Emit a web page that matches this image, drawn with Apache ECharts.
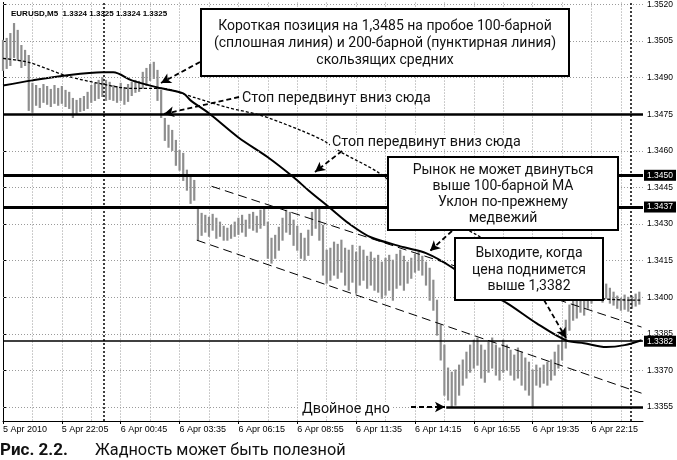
<!DOCTYPE html>
<html><head><meta charset="utf-8">
<script src="https://cdn.jsdelivr.net/npm/echarts@6/dist/echarts.min.js"></script>
<style>html,body{margin:0;padding:0;background:#fff}#c{width:677px;height:460px}</style>
</head><body><div id="c"></div>
<script>
// ---- tick labels ----
const xTickLabels = ['5 Apr 2010','5 Apr 22:05','6 Apr 00:45','6 Apr 03:35','6 Apr 06:15','6 Apr 08:55','6 Apr 11:35','6 Apr 14:15','6 Apr 16:55','6 Apr 19:35','6 Apr 22:15'];
const barsPerLabel = 16;
const categoryCount = 175;
const yTicks = [1.3355,1.3370,1.3385,1.3400,1.3415,1.3430,1.3445,1.3460,1.3475,1.3490,1.3505,1.3520];

// ---- price bars (10-min) ----
const highs = [
1.35053,1.35061,1.35081,1.35122,1.35094,1.35032,1.35012,1.34991,1.34877,1.34868,
1.34856,1.34872,1.34864,1.34852,1.34868,1.34856,1.34864,1.34848,1.34840,1.34815,
1.34807,1.34815,1.34823,1.34840,1.34868,1.34877,1.34889,1.34901,1.34889,1.34881,
1.34868,1.34864,1.34877,1.34860,1.34872,1.34881,1.34889,1.34885,1.34922,1.34938,
1.34954,1.34963,1.34930,1.34848,1.34733,1.34705,1.34684,1.34643,1.34602,1.34590,
1.34521,1.34492,1.34479,1.34369,1.34344,1.34336,1.34328,1.34340,1.34324,1.34308,
1.34291,1.34283,1.34295,1.34308,1.34324,1.34336,1.34316,1.34340,1.34348,1.34332,
1.34357,1.34369,1.34308,1.34242,1.34254,1.34287,1.34324,1.34357,1.34348,1.34316,
1.34291,1.34262,1.34242,1.34275,1.34348,1.34369,1.34365,1.34295,1.34193,1.34201,
1.34226,1.34217,1.34234,1.34201,1.34193,1.34213,1.34185,1.34209,1.34193,1.34168,
1.34185,1.34160,1.34172,1.34144,1.34160,1.34172,1.34152,1.34176,1.34193,1.34168,
1.34144,1.34160,1.34176,1.34185,1.34168,1.34144,1.34119,1.34070,1.33988,1.33886,
1.33804,1.33710,1.33693,1.33702,1.33722,1.33743,1.33775,1.33804,1.33824,1.33833,
1.33804,1.33783,1.33816,1.33833,1.33804,1.33792,1.33824,1.33804,1.33783,1.33763,
1.33792,1.33775,1.33751,1.33734,1.33702,1.33722,1.33710,1.33722,1.33734,1.33743,
1.33775,1.33804,1.33845,1.33906,1.33968,1.34000,1.33988,1.34017,1.34005,1.34029,
1.34050,1.34037,1.34058,1.34046,1.34054,1.34037,1.34021,1.34005,1.33996,1.34009,
1.34000,1.34005,1.34013,1.34021];
const lows = [
1.34930,1.34938,1.34950,1.34983,1.34971,1.34942,1.34950,1.34766,1.34758,1.34787,
1.34778,1.34799,1.34791,1.34782,1.34795,1.34787,1.34795,1.34782,1.34774,1.34737,
1.34750,1.34762,1.34766,1.34774,1.34799,1.34807,1.34815,1.34823,1.34807,1.34811,
1.34807,1.34799,1.34807,1.34791,1.34803,1.34827,1.34840,1.34844,1.34856,1.34868,
1.34889,1.34897,1.34807,1.34737,1.34643,1.34615,1.34602,1.34541,1.34521,1.34479,
1.34439,1.34385,1.34398,1.34234,1.34254,1.34267,1.34250,1.34275,1.34242,1.34250,
1.34234,1.34234,1.34242,1.34250,1.34258,1.34267,1.34250,1.34283,1.34275,1.34267,
1.34283,1.34295,1.34160,1.34140,1.34160,1.34193,1.34234,1.34267,1.34258,1.34213,
1.34193,1.34160,1.34152,1.34172,1.34254,1.34283,1.34234,1.34091,1.34058,1.34070,
1.34091,1.34078,1.34103,1.34050,1.34029,1.34062,1.34017,1.34050,1.34070,1.34037,
1.34050,1.34029,1.34021,1.33996,1.34009,1.34029,1.33988,1.34037,1.34050,1.34029,
1.34058,1.34078,1.34103,1.34111,1.34091,1.34050,1.33988,1.33947,1.33845,1.33743,
1.33599,1.33579,1.33550,1.33558,1.33599,1.33640,1.33669,1.33693,1.33710,1.33722,
1.33669,1.33652,1.33693,1.33710,1.33681,1.33661,1.33693,1.33702,1.33681,1.33661,
1.33669,1.33640,1.33620,1.33599,1.33550,1.33640,1.33632,1.33648,1.33640,1.33661,
1.33681,1.33710,1.33743,1.33792,1.33865,1.33906,1.33915,1.33939,1.33927,1.33955,
1.33976,1.33988,1.33996,1.33980,1.33996,1.33976,1.33968,1.33955,1.33947,1.33951,
1.33943,1.33955,1.33964,1.33972];

// ---- moving averages (bar index, price) ----
const ma100Idx = [0,8,17,27,30,35,42,49,51,56,64,72,79,83,89,94,100,109,115,122,129,137,145,153,158,164,169,173.6];
const ma100 = [1.34868,1.34889,1.34909,1.34922,1.34922,1.34889,1.34860,1.34836,1.34807,1.34754,1.34655,1.34574,1.34492,1.34439,1.34365,1.34303,1.34246,1.34205,1.34181,1.34123,1.34041,1.33976,1.33894,1.33824,1.33812,1.33796,1.33804,1.33824];
const ma200Idx = [0,7,17,26,35,43,52,61,70,81,87,92,102,113,129,146,162,173.6];
const ma200 = [1.34979,1.34963,1.34909,1.34877,1.34856,1.34856,1.34819,1.34778,1.34746,1.34684,1.34643,1.34594,1.34512,1.34385,1.34254,1.34103,1.33996,1.33988];

// ---- levels & drawn lines ----
const levels = [1.3475, 1.3450, 1.3437, 1.3382];
const doubleBottom = { fromIdx: 120.5, price: 1.3355 };
const daySeparators = [27.5, 170.8];
const channelUpper = [[56.7, 1.34455], [173.6, 1.33878]];
const channelLower = [[52.7, 1.34234], [173.6, 1.33607]];

// ---- styles ----
const levelWidths = [2.5, 3, 3, 1.6];
const levelTagged = [false, true, true, true];
const FONT = 'Roboto, "Noto Sans", sans-serif';
const AXF = '"Liberation Sans", Arial, sans-serif';
const GRID_COLOR = '#9a9a9a';

const chart = echarts.init(document.getElementById('c'), null, { renderer: 'canvas' });
const categories = Array.from({ length: categoryCount }, (_, i) => String(i));
const yMin = 1.33493, yMax = 1.35208;

const levelLines = levels.map((v, i) => ({
  yAxis: v,
  lineStyle: { width: levelWidths[i], color: '#000', type: 'solid' },
  label: levelTagged[i] ? {
    show: true, position: 'end', distance: 1,
    formatter: p => Number(p.value).toFixed(4),
    backgroundColor: '#000', color: '#fff', fontSize: 8.5, fontFamily: AXF,
    padding: [1, 3, 1, 3]
  } : { show: false }
}));

const arrows = [
  [[200, 62], [161, 83]],
  [[239, 97], [164, 114]],
  [[342, 151], [315, 172]],
  [[452, 231], [430, 251]],
  [[544, 300], [566, 338]],
  [[411, 407], [445, 407]]
];

function boxText(x1, y1, x2, y2, lines, lh) {
  return [
    { type: 'rect', z: 100, shape: { x: x1, y: y1, width: x2 - x1, height: y2 - y1 },
      style: { fill: '#fff', stroke: '#000', lineWidth: 2 } },
    { type: 'text', z: 101, x: (x1 + x2) / 2, y: (y1 + y2) / 2 + 1,
      style: { text: lines.join('\n'), font: '14px ' + FONT, fill: '#111', align: 'center', verticalAlign: 'middle', lineHeight: lh } }
  ];
}
function freeText(x, y, t) {
  return { type: 'text', z: 101, x: x, y: y,
    style: { text: t, font: '14.3px ' + FONT, fill: '#111', align: 'left', verticalAlign: 'middle', backgroundColor: '#fff', padding: [0, 2] } };
}

const option = {
  animation: false,
  backgroundColor: '#fff',
  grid: { left: 3, right: 34, top: 2, bottom: 39, containLabel: false },
  xAxis: [
    { type: 'category', data: categories, boundaryGap: false, position: 'bottom',
      axisLine: { show: true, lineStyle: { color: '#000', width: 1 } },
      axisTick: { show: true, interval: barsPerLabel - 1, length: 3, lineStyle: { color: '#000' } },
      axisLabel: { interval: barsPerLabel - 1, align: 'left', margin: 4, fontSize: 9, color: '#000', fontFamily: AXF,
        formatter: (v, i) => xTickLabels[Math.round(i / barsPerLabel)] || '' },
      splitLine: { show: true, interval: barsPerLabel / 2 - 1, lineStyle: { color: GRID_COLOR, width: 1, type: [1, 2] } } },
    { type: 'value', min: 0, max: categoryCount - 1, show: false }
  ],
  yAxis: [
    { type: 'value', position: 'right', min: yMin, max: yMax, scale: true,
      axisLine: { show: true, lineStyle: { color: '#000', width: 1 } },
      axisTick: { show: true, length: 3, customValues: yTicks, lineStyle: { color: '#000' } },
      axisLabel: { customValues: yTicks, formatter: v => v.toFixed(4), fontSize: 8.5, color: '#000', margin: 4, fontFamily: AXF },
      splitLine: { show: false } },
    { type: 'value', position: 'left', min: yMin, max: yMax,
      axisLine: { show: true, lineStyle: { color: '#000', width: 1 } },
      axisTick: { show: false }, axisLabel: { show: false }, splitLine: { show: false } }
  ],
  title: { text: 'EURUSD,M5  1.3324 1.3325 1.3324 1.3325', left: 6, top: 5,
    textStyle: { fontSize: 8, fontWeight: 'bold', color: '#000', fontFamily: AXF } },
  series: [
    { name: 'gridY', type: 'line', xAxisIndex: 1, yAxisIndex: 0, z: 1, symbol: 'none',
      data: [[0, yTicks[0]]], lineStyle: { opacity: 0 }, silent: true,
      markLine: { silent: true, symbol: 'none', precision: 5, animation: false, label: { show: false },
        lineStyle: { color: GRID_COLOR, width: 1, type: [1, 2] },
        data: yTicks.map(v => ({ yAxis: v })) } },
    { name: 'bars', type: 'custom', xAxisIndex: 0, yAxisIndex: 0, z: 2,
      data: highs.map((h, i) => [i, lows[i], h]),
      encode: { x: 0, y: [1, 2] },
      renderItem: function (params, api) {
        const a = api.coord([api.value(0), api.value(2)]);
        const b = api.coord([api.value(0), api.value(1)]);
        return { type: 'line', shape: { x1: a[0], y1: a[1] - 0.5, x2: b[0], y2: b[1] + 0.5 },
          style: { stroke: '#8e8e8e', lineWidth: 2.2 } };
      }, silent: true },
    { name: 'MA200', type: 'line', xAxisIndex: 1, yAxisIndex: 0, z: 3, symbol: 'none', smooth: 0.3,
      data: ma200Idx.map((x, i) => [x, ma200[i]]),
      lineStyle: { color: '#000', width: 1.3, type: [3, 2] }, silent: true,
      markLine: { silent: true, symbol: 'none', precision: 5, animation: false, label: { show: false },
        data: [
          ...daySeparators.map(x => ({ xAxis: x, lineStyle: { color: '#000', width: 1.5, type: [2, 2] } })),
          [{ coord: channelUpper[0] }, { coord: channelUpper[1], lineStyle: { color: '#000', width: 1, type: [9, 5] } }],
          [{ coord: channelLower[0] }, { coord: channelLower[1], lineStyle: { color: '#000', width: 1, type: [9, 5] } }],
          ...levelLines,
          [{ coord: [doubleBottom.fromIdx, doubleBottom.price] }, { coord: [categoryCount - 1, doubleBottom.price], lineStyle: { color: '#000', width: 2.6, type: 'solid' } }]
        ] } },
    { name: 'MA100', type: 'line', xAxisIndex: 1, yAxisIndex: 0, z: 4, symbol: 'none', smooth: 0.3,
      data: ma100Idx.map((x, i) => [x, ma100[i]]),
      lineStyle: { color: '#000', width: 2 }, silent: true,
      markLine: { silent: true, symbol: ['none', 'arrow'], symbolSize: [8, 10], precision: 5, animation: false, label: { show: false },
        lineStyle: { color: '#000', width: 1.8, type: [5, 3] },
        data: arrows.map(a => [{ x: a[0][0], y: a[0][1] }, { x: a[1][0], y: a[1][1] }]) } }
  ],
  graphic: [
    ...boxText(201, 9, 569, 76, ['Короткая позиция на 1,3485 на пробое 100-барной', '(сплошная линия) и 200-барной (пунктирная линия)', 'скользящих средних'], 17),
    ...boxText(388, 157, 618, 230, ['Рынок не может двинуться', 'выше 100-барной МА', 'Уклон по-прежнему', 'медвежий'], 16),
    ...boxText(455, 238, 603, 300, ['Выходите, когда', 'цена поднимется', 'выше 1,3382'], 16.5),
    freeText(240, 98, 'Стоп передвинут вниз сюда'),
    freeText(330, 142, 'Стоп передвинут вниз сюда'),
    freeText(300, 409, 'Двойное дно'),
    { type: 'text', z: 101, x: 0, y: 451, style: { text: 'Рис. 2.2.', font: 'bold 17px ' + FONT, fill: '#111', align: 'left', verticalAlign: 'middle' } },
    { type: 'text', z: 101, x: 95, y: 451, style: { text: 'Жадность может быть полезной', font: '16.3px ' + FONT, fill: '#111', align: 'left', verticalAlign: 'middle' } }
  ]
};
chart.setOption(option);
</script></body></html>
